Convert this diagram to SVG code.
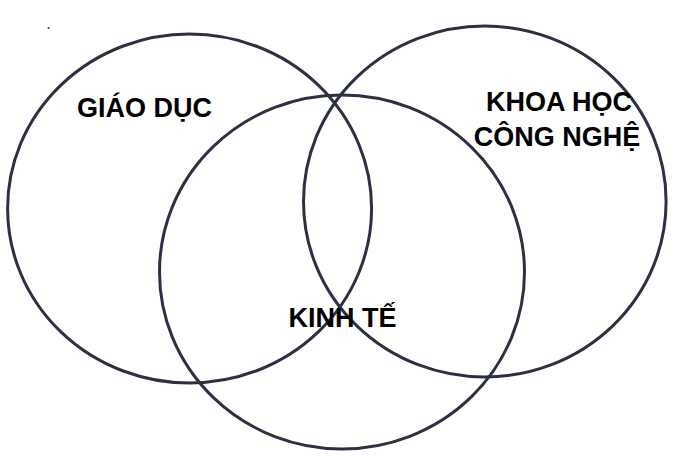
<svg xmlns="http://www.w3.org/2000/svg" width="678" height="456" viewBox="0 0 678 456">
<style>
.c{fill:none;stroke:#2b3142;stroke-width:3}
.t{font-family:"Liberation Sans",Arial,sans-serif;font-weight:bold;font-size:27px;fill:#000;text-anchor:middle}
</style>
<rect width="678" height="456" fill="#fff"/>
<circle cx="48.5" cy="28" r="1" fill="#333"/>
<g id="connectors"></g>
<g id="giao-duc">
<ellipse class="c" cx="189.6" cy="208.5" rx="182" ry="174.5"/>
<text class="t" x="144.5" y="117">GIÁO DỤC</text>
</g>
<g id="khoa-hoc">
<ellipse class="c" cx="484.8" cy="201.5" rx="181.3" ry="175.5"/>
<text class="t" x="559" y="111">KHOA HỌC</text>
<text class="t" x="557" y="146">CÔNG NGHỆ</text>
</g>
<g id="kinh-te">
<ellipse class="c" cx="342" cy="272" rx="182.5" ry="177"/>
<text class="t" x="342.5" y="327">KINH TẾ</text>
</g>
</svg>
